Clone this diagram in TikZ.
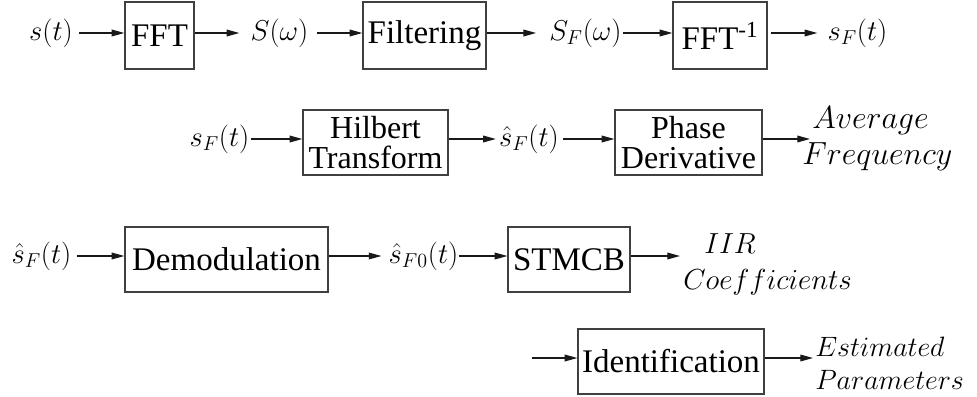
\RequirePackage{fix-cm}
\documentclass[tikz,border=0pt]{standalone}
\usepackage{fontspec}
\setmainfont{Liberation Serif}
\usetikzlibrary{arrows.meta}
\newcommand\pxu{0.75pt}
\begin{document}
\begin{tikzpicture}[x=0.75pt,y=-0.75pt,
  box/.style={draw=black!75, line width=0.9pt, inner sep=0pt, align=center,
    font=\fontsize{24.75}{22}\selectfont},
  box2/.style={box, font=\fontsize{24}{23}\selectfont},
  lbl/.style={inner sep=0pt, text height=16.1pt, text depth=5.4pt,
    font=\fontsize{21.5}{24}\selectfont},
  outt/.style={inner sep=0pt, anchor=base west},
  arr/.style={-{Triangle[length=9.5pt,width=5pt]}, line width=0.9pt, black!90}]
\useasboundingbox (0,0) rectangle (977,396);

% Row 1
\node[lbl] (st) at (51,33) {$s(t)$};
\node[box, minimum width=69*\pxu, minimum height=67*\pxu] (fft) at (159.5,35.5) {FFT};
\node[lbl] (Sw) at (279.5,33) {$S(\omega)$};
\node[box, minimum width=123*\pxu, minimum height=67*\pxu] (filt) at (424.5,35.5) {Filtering};
\node[lbl] (SFw) at (585.5,33) {$S_F(\omega)$};
\node[box, minimum width=94*\pxu, minimum height=67*\pxu] (ifft) at (720,35.5) {FFT\textsuperscript{-1}};
\node[lbl] (sFt) at (857.5,33) {$s_F(t)$};

\draw[arr, shorten <=4.5pt] (st.east) -- (st.east -| fft.west);
\draw[arr, shorten >=8.25pt] (fft.east |- Sw.west) -- (Sw.west);
\draw[arr, shorten <=6pt] (Sw.east) -- (Sw.east -| filt.west);
\draw[arr, shorten >=9.75pt] (filt.east |- SFw.west) -- (SFw.west);
\draw[arr, shorten <=0.75pt] (SFw.east) -- (SFw.east -| ifft.west);
\draw[arr, shorten <=2.25pt, shorten >=7.5pt] (ifft.east |- sFt.west) -- (sFt.west);

% Row 2
\node[lbl] (sFt2) at (219.5,139) {$s_F(t)$};
\node[box2, minimum width=145*\pxu, minimum height=65*\pxu] (hil) at (375.5,142.5) {Hilbert\\Transform};
\node[lbl] (hs) at (529,139) {$\hat{s}_F(t)$};
\node[box2, minimum width=147*\pxu, minimum height=65*\pxu] (pd) at (688.5,142.5) {Phase\\Derivative};
\node[outt, font=\fontsize{24}{24}\selectfont] (avg) at (812,128) {$Average$};
\node[outt, font=\fontsize{24}{24}\selectfont] (frq) at (802,164) {$Frequency$};
\coordinate (avgin) at (810,139);

\draw[arr, shorten <=0.75pt] (sFt2.east) -- (sFt2.east -| hil.west);
\draw[arr, shorten >=2.25pt] (hil.east |- hs.west) -- (hs.west);
\draw[arr, shorten <=3pt] (hs.east) -- (hs.east -| pd.west);
\draw[arr] (pd.east |- avgin) -- (avgin);

% Row 3
\node[lbl] (hs3) at (41.5,256) {$\hat{s}_F(t)$};
\node[box, minimum width=203*\pxu, minimum height=65*\pxu] (dem) at (226.5,259.5) {Demodulation};
\node[lbl] (hs0) at (423.5,256) {$\hat{s}_{F0}(t)$};
\node[box, minimum width=122*\pxu, minimum height=65*\pxu] (stm) at (569,259.5) {STMCB};
\node[outt, font=\fontsize{21.75}{24}\selectfont] (iir) at (704,253) {$IIR$};
\node[outt, font=\fontsize{21.75}{24}\selectfont] (coef) at (683,289) {$Coefficients$};
\coordinate (iirin) at (680,256);

\draw[arr, shorten <=3.75pt] (hs3.east) -- (hs3.east -| dem.west);
\draw[arr, shorten >=5.25pt] (dem.east |- hs0.west) -- (hs0.west);
\draw[arr] (hs0.east) -- (hs0.east -| stm.west);
\draw[arr] (stm.east |- iirin) -- (iirin);

% Row 4
\coordinate (idin) at (532,358);
\node[box, minimum width=186*\pxu, minimum height=65*\pxu] (idf) at (671,361.5) {Identification};
\node[outt, font=\fontsize{21}{24}\selectfont] (est) at (815,356) {$Estimated$};
\node[outt, font=\fontsize{21}{24}\selectfont] (par) at (815,389) {$Parameters$};
\coordinate (estin) at (813,358);

\draw[arr] (idin) -- (idin -| idf.west);
\draw[arr] (idf.east |- estin) -- (estin);
\end{tikzpicture}
\end{document}
